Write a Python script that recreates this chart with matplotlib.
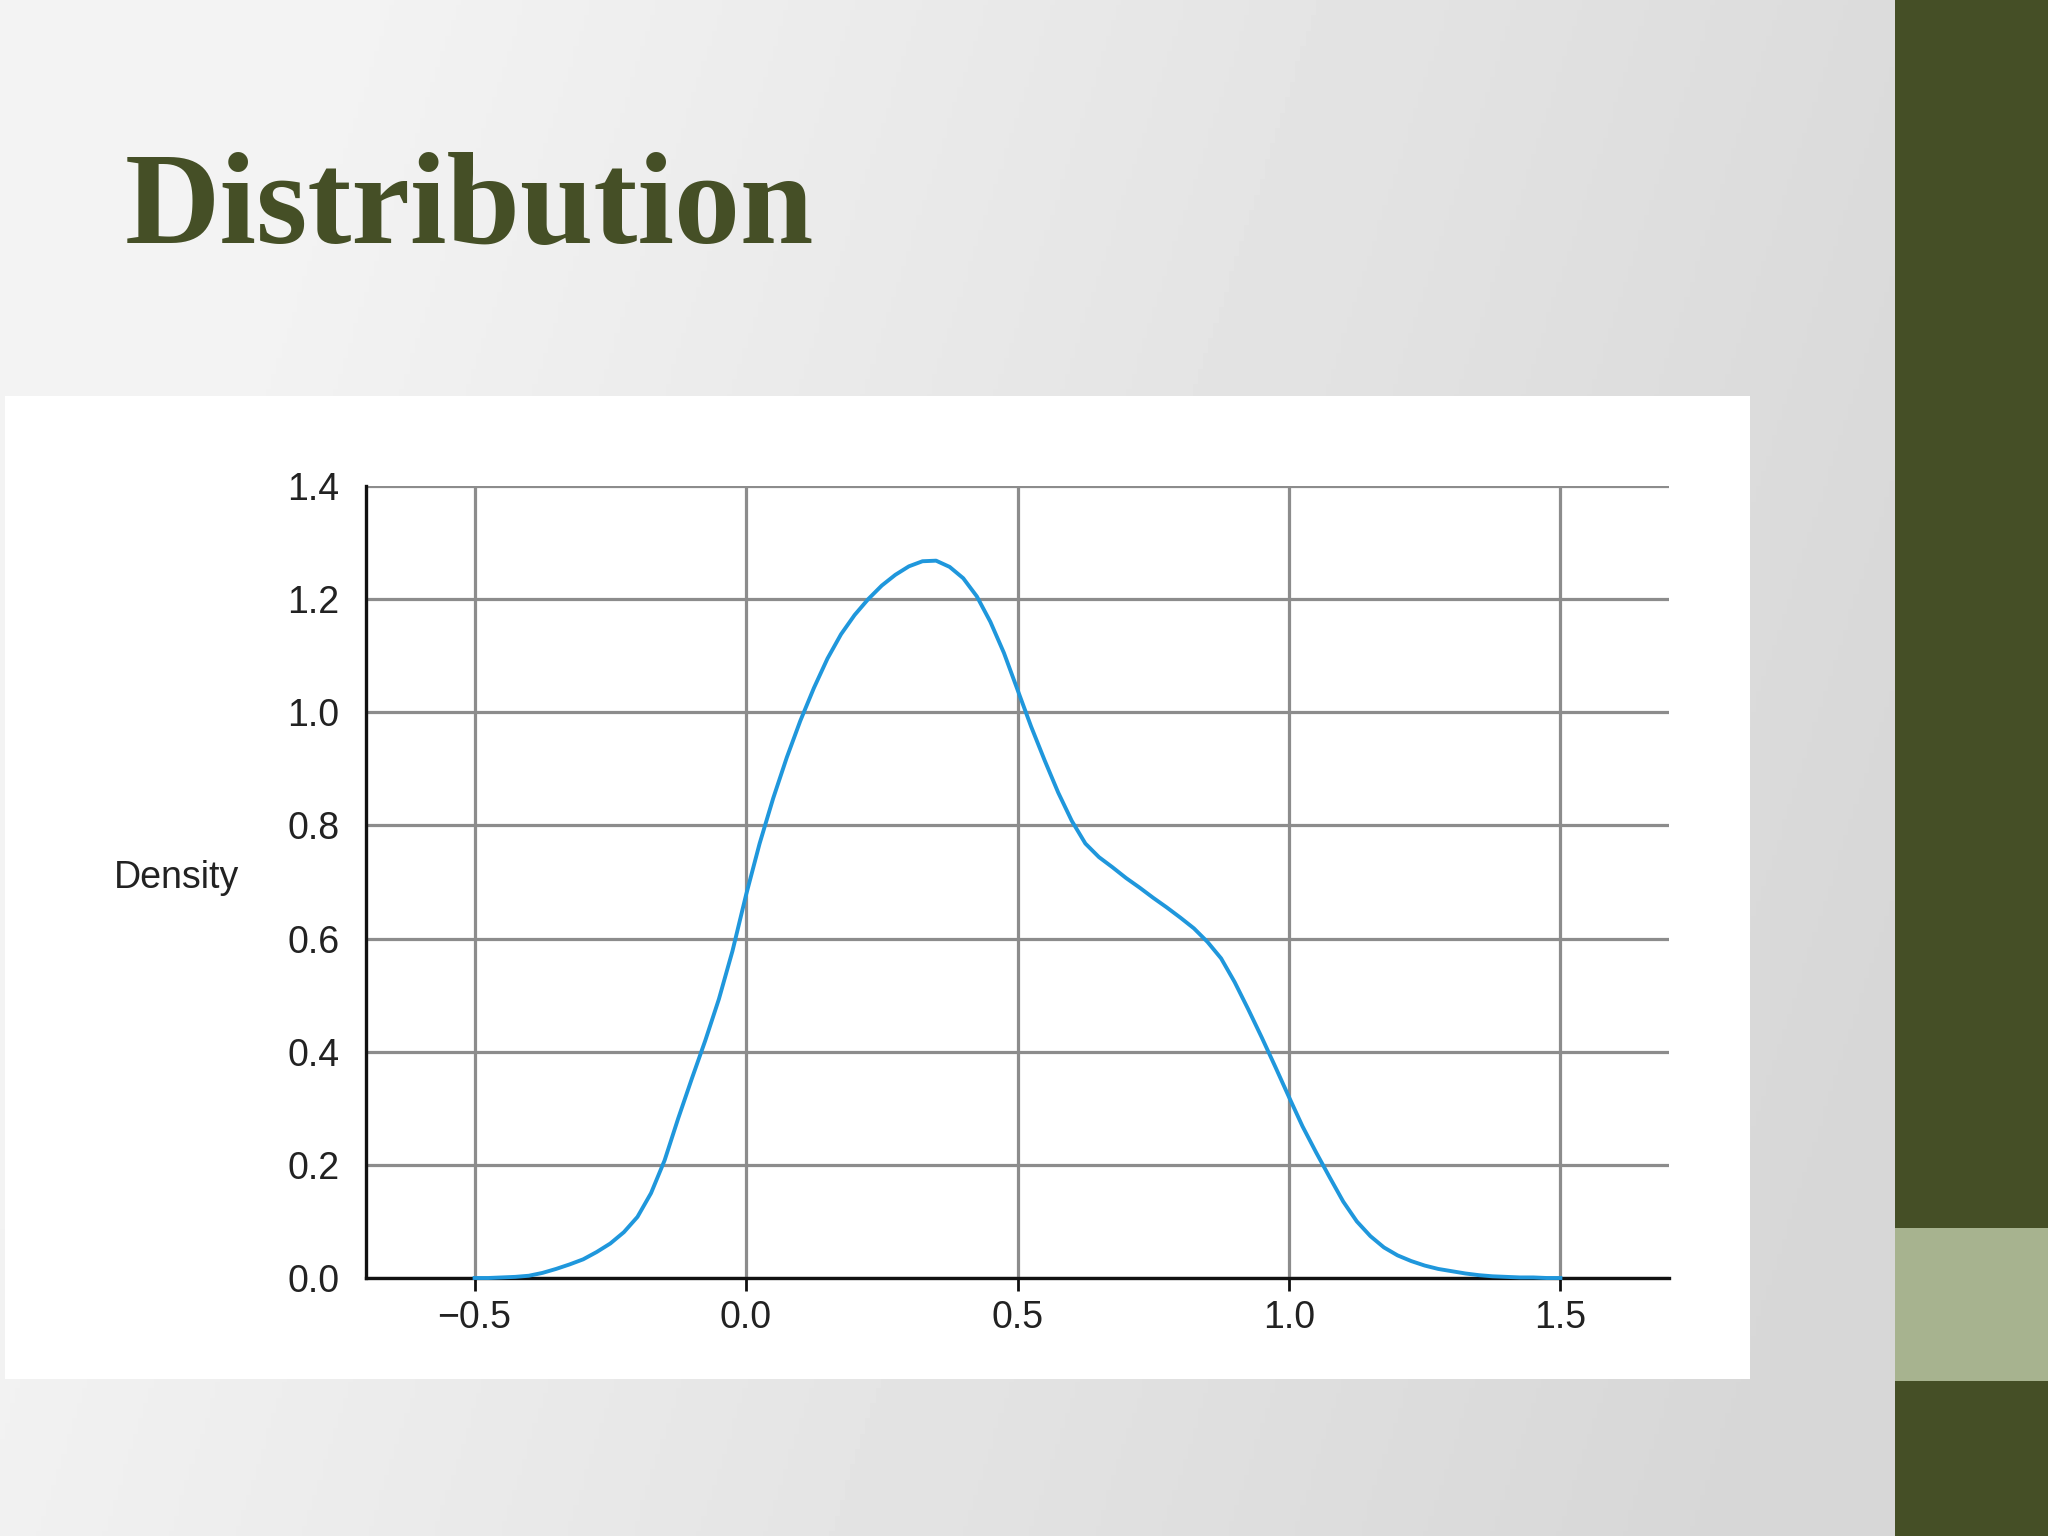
import numpy as np
import matplotlib.pyplot as plt
from matplotlib.patches import Rectangle

# ================= DATA =================
title = "Distribution"
y_label = "Density"

x_vals = [-0.5, -0.475, -0.45, -0.425, -0.4, -0.375, -0.35, -0.325, -0.3, -0.275,
          -0.25, -0.225, -0.2, -0.175, -0.15, -0.125, -0.1, -0.075, -0.05, -0.025,
          0.0, 0.025, 0.05, 0.075, 0.1, 0.125, 0.15, 0.175, 0.2, 0.225,
          0.25, 0.275, 0.3, 0.325, 0.35, 0.375, 0.4, 0.425, 0.45, 0.475,
          0.5, 0.525, 0.55, 0.575, 0.6, 0.625, 0.65, 0.675, 0.7, 0.725,
          0.75, 0.775, 0.8, 0.825, 0.85, 0.875, 0.9, 0.925, 0.95, 0.975,
          1.0, 1.025, 1.05, 1.075, 1.1, 1.125, 1.15, 1.175, 1.2, 1.225,
          1.25, 1.275, 1.3, 1.325, 1.35, 1.375, 1.4, 1.425, 1.45, 1.475, 1.5]
density = [0.000, 0.000, 0.001, 0.002, 0.004, 0.009, 0.016, 0.024, 0.033, 0.046,
           0.061, 0.081, 0.108, 0.150, 0.208, 0.282, 0.352, 0.420, 0.493, 0.578,
           0.677, 0.768, 0.848, 0.920, 0.985, 1.043, 1.095, 1.138, 1.172, 1.200,
           1.224, 1.243, 1.258, 1.267, 1.268, 1.257, 1.237, 1.205, 1.160, 1.105,
           1.040, 0.975, 0.915, 0.858, 0.808, 0.768, 0.744, 0.726, 0.707, 0.690,
           0.672, 0.655, 0.637, 0.618, 0.594, 0.565, 0.523, 0.475, 0.425, 0.373,
           0.320, 0.268, 0.222, 0.178, 0.135, 0.100, 0.074, 0.054, 0.040, 0.030,
           0.022, 0.016, 0.012, 0.008, 0.005, 0.003, 0.002, 0.001, 0.001, 0.000, 0.000]

x_ticks = [-0.5, 0.0, 0.5, 1.0, 1.5]
y_ticks = [0.0, 0.2, 0.4, 0.6, 0.8, 1.0, 1.2, 1.4]

# ================= STYLE =================
W, H = 2048, 1536
olive = "#454f26"
light_green = "#a7b38f"
line_blue = "#1f97dc"
grid_gray = "#8c8c8c"

fig = plt.figure(figsize=(W / 100, H / 100), dpi=100)

# slide background: soft grey gradient
bg = fig.add_axes([0, 0, 1, 1], zorder=-10)
u = np.linspace(0, 1, 400)[None, :]
v = np.linspace(0, 1, 300)[:, None]
shade = 0.955 - 0.115 * np.clip(u * 1.05 + 0.25 * v - 0.15, 0, 1)
bg.imshow(shade, cmap="gray", vmin=0, vmax=1, aspect="auto",
          extent=[0, 1, 0, 1], origin="upper")
bg.set_xlim(0, 1)
bg.set_ylim(0, 1)
bg.axis("off")

# right decoration bar
fig.patches.append(Rectangle((1895 / W, 0), (W - 1895) / W, 1, transform=fig.transFigure,
                             facecolor=olive, edgecolor="none", zorder=-5))
fig.patches.append(Rectangle((1895 / W, 1 - 1381 / H), (W - 1895) / W, (1381 - 1228) / H,
                             transform=fig.transFigure, facecolor=light_green,
                             edgecolor="none", zorder=-4))

# white picture panel
fig.patches.append(Rectangle((5 / W, 1 - 1379 / H), (1750 - 5) / W, (1379 - 396) / H,
                             transform=fig.transFigure, facecolor="white",
                             edgecolor="none", zorder=-3))

# title
fig.text(125 / W, 1 - 243 / H, title, fontsize=95, fontweight="bold",
         family="Liberation Serif", color=olive, ha="left", va="baseline")

# ================= PLOT =================
ax = fig.add_axes([366 / W, 1 - 1278 / H, (1669 - 366) / W, (1278 - 486) / H])
ax.set_facecolor("none")
ax.plot(x_vals, density, color=line_blue, linewidth=2.8, zorder=3, clip_on=False,
        solid_joinstyle="round")

ax.set_xlim(-0.7, 1.7)
ax.set_ylim(0, 1.4)
ax.set_xticks(x_ticks)
ax.set_yticks(y_ticks)
ax.set_xticklabels([f"{t:.1f}".replace("-", "\u2212") for t in x_ticks])
ax.set_yticklabels([f"{t:.1f}" for t in y_ticks])

ax.grid(True, color=grid_gray, linewidth=2.3)
ax.set_axisbelow(True)
for side in ["top", "right"]:
    ax.spines[side].set_visible(False)
for side in ["left", "bottom"]:
    ax.spines[side].set_color("#111111")
    ax.spines[side].set_linewidth(2.4)

ax.tick_params(axis="x", direction="out", length=9, width=2, color="#111111",
               pad=7, labelsize=27, labelcolor="#222222")
ax.tick_params(axis="y", length=0, pad=19, labelsize=27, labelcolor="#222222")
for lab in ax.get_xticklabels() + ax.get_yticklabels():
    lab.set_family("Liberation Sans")

ax.set_ylabel(y_label, rotation=0, fontsize=27, family="Liberation Sans",
              color="#222222", ha="right", va="center")
ax.yaxis.set_label_coords(-0.0975, 0.505)

fig.savefig("out.png", dpi=100)
